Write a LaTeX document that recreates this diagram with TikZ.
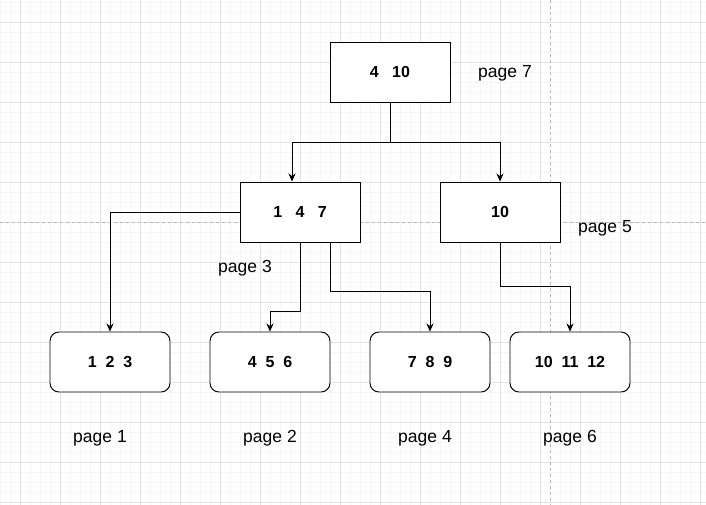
\documentclass[tikz,border=0pt]{standalone}
\usepackage{fontspec}
\setmainfont{Liberation Sans}
\usetikzlibrary{arrows.meta}
\begin{document}
\begin{tikzpicture}[x=1pt,y=-1pt,
  minorgrid/.style={draw=black!3.5,line width=0.7pt},
  majorgrid/.style={draw=black!11,line width=0.8pt},
  pagebreak/.style={draw=black!28,line width=0.8pt,dash pattern=on 3pt off 3pt},
  sqbox/.style={draw=black,fill=white,line width=0.95pt,minimum width=120pt,minimum height=60pt,inner sep=0pt,font=\fontsize{16}{19}\selectfont\bfseries},
  leafbox/.style={sqbox,rounded corners=9pt},
  lbl/.style={anchor=base,inner sep=0pt,font=\fontsize{17.5}{20}\selectfont},
  conn/.style={draw=black,line width=0.95pt,-{Stealth[length=8pt,width=7pt,inset=2.5pt]}}]
\fill[white] (0,0) rectangle (706,505);
\useasboundingbox (0,0) rectangle (706,505);
% grid
\foreach \x in {0,10,...,700} \draw[minorgrid] (\x,0) -- (\x,505);
\foreach \y in {2,12,...,502} \draw[minorgrid] (0,\y) -- (706,\y);
\foreach \x in {20,60,...,700} \draw[majorgrid] (\x,0) -- (\x,505);
\foreach \y in {22,62,...,502} \draw[majorgrid] (0,\y) -- (706,\y);
% page breaks
\draw[pagebreak] (0,222) -- (706,222);
\draw[pagebreak] (550,0) -- (550,505);
% nodes
\node[sqbox] (r) at (390,72) {4~~~10};
\node[sqbox] (b147) at (300,212) {1~~~4~~~7};
\node[sqbox] (b10) at (500,212) {10};
\node[leafbox] (l1) at (110,362) {1~~2~~3};
\node[leafbox] (l2) at (270,362) {4~~5~~6};
\node[leafbox] (l3) at (430,362) {7~~8~~9};
\node[leafbox] (l4) at (570,362) {10~~11~~12};
% labels
\node[lbl] (p7) at (505,77.7) {page 7};
\node[lbl] (p3) at (245,272) {page 3};
\node[lbl] (p5) at (605,232.3) {page 5};
\node[lbl] (p1) at (100,442.3) {page 1};
\node[lbl] (p2) at (270,442.3) {page 2};
\node[lbl] (p4) at (425,442.3) {page 4};
\node[lbl] (p6) at (570,442.3) {page 6};
% connectors
\draw[conn] (r.south) -- ++(0,40) -| ([xshift=-8pt]b147.north);
\draw[conn] (r.south) -- ++(0,40) -| (b10.north);
\draw[conn] (b147.west) -| (l1.north);
\draw[conn] (b147.south) |- ([yshift=20pt]l2.north) -- (l2.north);
\draw[conn] ([xshift=30pt]b147.south) |- ([yshift=40pt]l3.north) -- (l3.north);
\draw[conn] (b10.south) |- ([yshift=45pt]l4.north) -- (l4.north);
\end{tikzpicture}
\end{document}
